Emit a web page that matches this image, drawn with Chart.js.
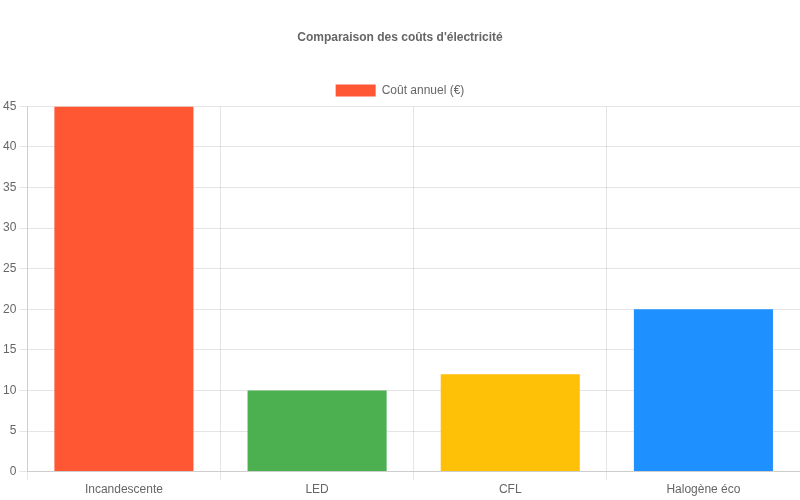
<!DOCTYPE html>
<html><head><meta charset="utf-8">
<script src="https://cdn.jsdelivr.net/npm/chart.js@4"></script>
<style>body{margin:0}#w{width:800px;height:500px}</style></head>
<body><div id="w"><canvas id="c"></canvas></div>
<script>
const categories = ["Incandescente", "LED", "CFL", "Halogène éco"];
const costs = [45, 10, 12, 20];
const colors = ["#FF5733", "#4CAF50", "#FFC107", "#1E90FF"];
Chart.defaults.font.family = "'Liberation Sans', Arial, sans-serif";
Chart.defaults.color = "#666";
new Chart(document.getElementById('c'), {
  type: 'bar',
  data: { labels: categories, datasets: [{ label: 'Coût annuel (€)', data: costs, backgroundColor: colors }] },
  options: {
    responsive: true, maintainAspectRatio: false, animation: false,
    layout: { padding: { top: 10 } },
    plugins: {
      title: { display: true, text: "Comparaison des coûts d'électricité", font: { size: 12, weight: 'bold' }, padding: { top: 20, bottom: 30 } },
      legend: { labels: { boxWidth: 40, font: { size: 12 } } }
    },
    scales: { y: { beginAtZero: true, max: 45, ticks: { stepSize: 5 } } }
  }
});
</script></body></html>
